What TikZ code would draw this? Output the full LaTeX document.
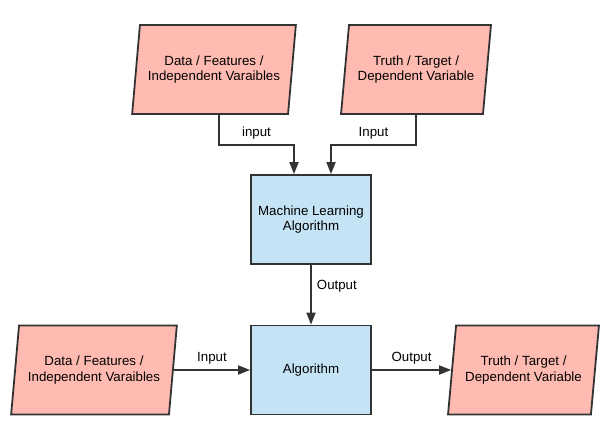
\documentclass[tikz,border=0pt]{standalone}
\usepackage{fontspec}
\setmainfont{Liberation Sans}
\usetikzlibrary{arrows.meta,positioning,shapes.geometric}
\definecolor{iofill}{HTML}{FFBBB1}
\definecolor{algfill}{HTML}{C4E4F6}
\definecolor{edge}{HTML}{333333}

\begin{document}
\begin{tikzpicture}[x=1pt,y=-1pt,>={Triangle[length=12pt,width=9pt]},
 font=\fontsize{13.3}{15.5}\selectfont,line width=1.8pt,
 io/.style={draw=edge,fill=iofill,trapezium,trapezium left angle=76,trapezium right angle=104,
  trapezium stretches=true,minimum height=89pt,align=center,inner sep=0pt},
 alg/.style={draw=edge,fill=algfill,minimum width=120pt,minimum height=89pt,align=center,inner sep=0pt},
 lbl/.style={font=\fontsize{13.3}{15.5}\selectfont,inner sep=5pt},
 link/.style={->,draw=edge,line width=1.8pt}]
\useasboundingbox (0,0) rectangle (610,444);
\node[io,minimum width=164pt] (dataTop) at (214,69.5) {Data / Features /\\Independent Varaibles};
\node[io,minimum width=150pt] (truthTop) at (416,69.5) {Truth / Target /\\Dependent Variable};
\node[alg] (ml) at (311,219.5) {Machine Learning\\Algorithm};
\node[alg] (algo) at (311,370) {Algorithm};
\node[io,minimum width=166pt] (dataBot) at (94,370) {Data / Features /\\Independent Varaibles};
\node[io,minimum width=151pt] (truthBot) at (523.5,370) {Truth / Target /\\Dependent Variable};
% inputs into the learner
\draw[link] ([xshift=5pt]dataTop.south) -- ++(0,30) -| node[lbl,pos=0.25,above]{input} ([xshift=-17pt]ml.north);
\draw[link] (truthTop.south) -- ++(0,30) -| node[lbl,pos=0.25,above]{Input} ([xshift=20pt]ml.north);
\draw[link] (ml) -- node[lbl,right,pos=0.35]{Output} (algo);
% prediction row
\draw[link] (dataBot) -- node[lbl,above]{Input} (algo);
\draw[link] (algo) -- node[lbl,above]{Output} (truthBot);
\end{tikzpicture}
\end{document}
